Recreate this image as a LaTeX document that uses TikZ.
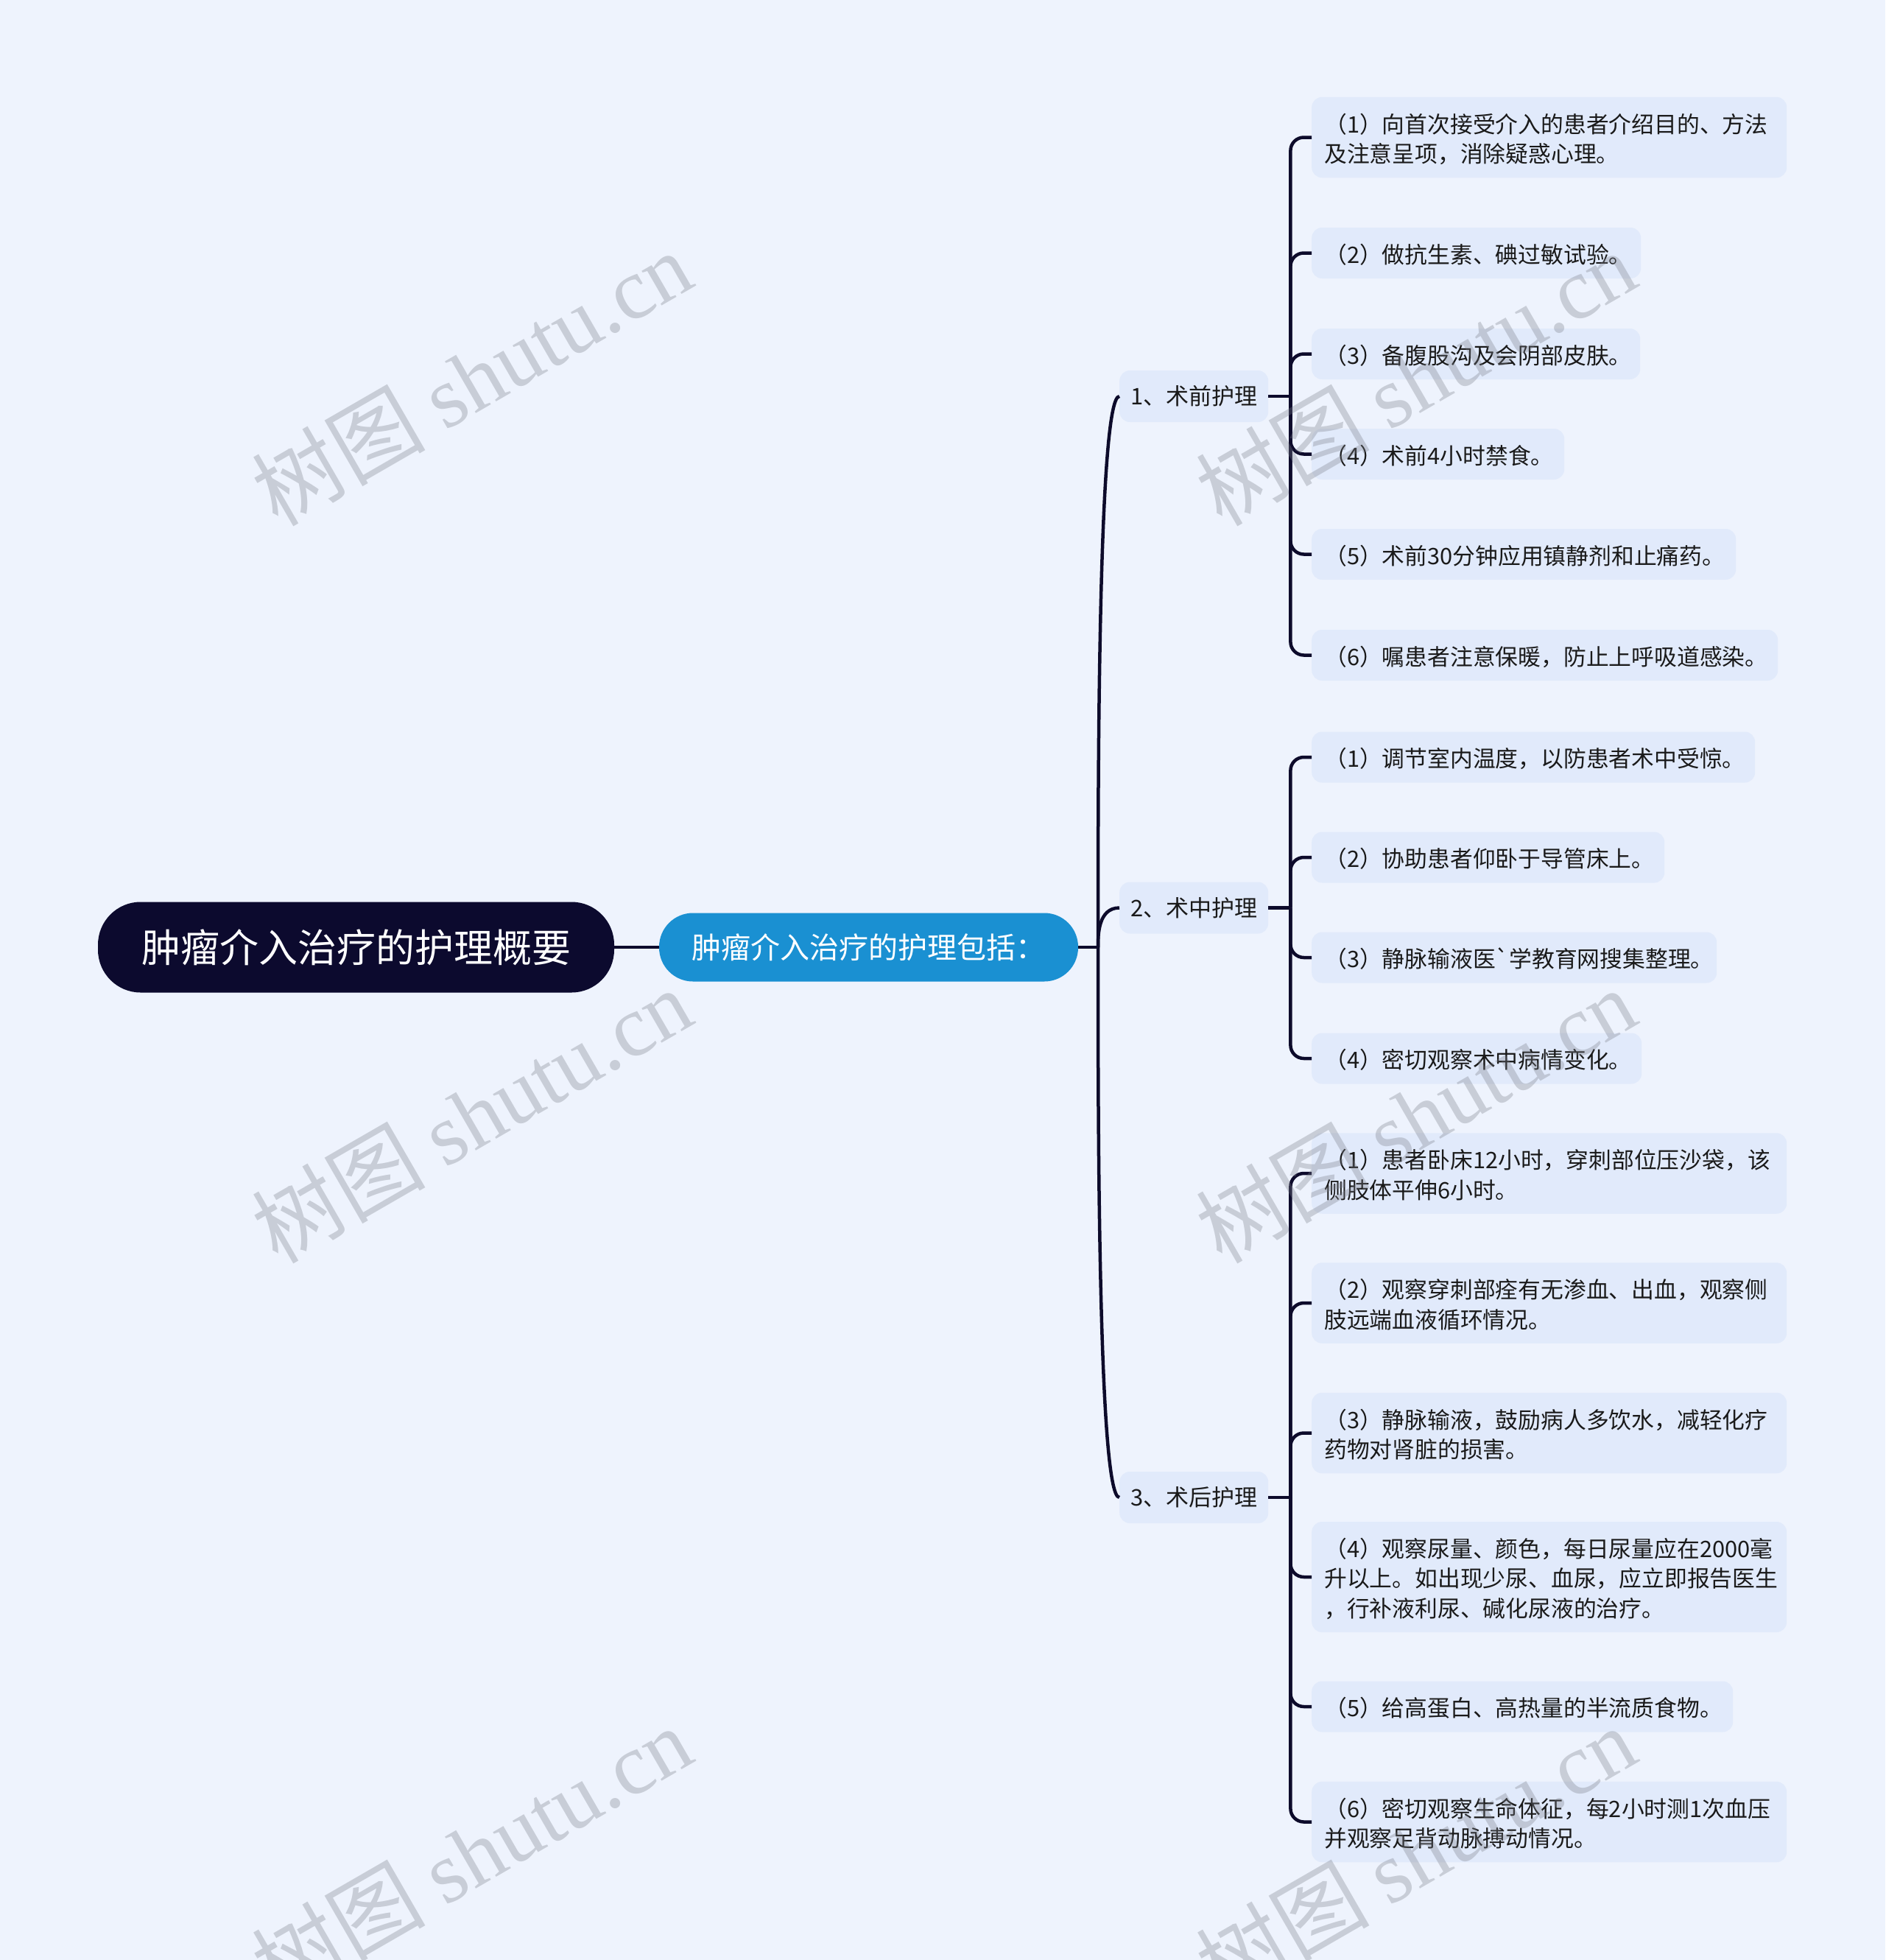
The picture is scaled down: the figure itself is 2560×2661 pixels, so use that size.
\documentclass[tikz,border=0pt]{standalone}
\usepackage{fontspec}
\setmainfont{Noto Sans CJK SC}
\newfontfamily\rawcjk{Noto Sans CJK SC}
\newfontfamily\wmlatin{Liberation Serif}
\usetikzlibrary{calc}
\definecolor{bg}{HTML}{EEF3FD}
\definecolor{leaffill}{HTML}{E1EAFB}
\definecolor{linec}{HTML}{0D0B2B}
\definecolor{rootfill}{HTML}{0C0A2E}
\definecolor{bluefill}{HTML}{1A90D2}
\definecolor{txt}{HTML}{1A1A1A}
\definecolor{wm}{HTML}{787D87}
\newcommand\lstrut{\vrule height 34pt depth 6.5pt width 0pt}
\begin{document}
\begin{tikzpicture}[x=1pt,y=-1pt,
  conn/.style={draw=linec,line width=4.5pt},
  leafconn/.style={draw=linec,line width=4.5pt,rounded corners=18pt},
  leaf/.style={fill=leaffill,rounded corners=14pt,anchor=west,inner xsep=17pt,inner ysep=14.25pt,align=left,text=txt,font=\fontsize{30.8pt}{40.5pt}\selectfont},
  branch/.style={fill=leaffill,rounded corners=14pt,anchor=west,minimum width=202pt,minimum height=70pt,inner sep=0pt,text=txt,font=\fontsize{31pt}{36pt}\selectfont},
  rootbox/.style={fill=rootfill,rounded corners=58pt,minimum width=701pt,minimum height=123pt,inner sep=0pt,text=white,font=\fontsize{53pt}{60pt}\selectfont},
  subbox/.style={fill=bluefill,rounded corners=46pt,minimum width=569pt,minimum height=93pt,inner sep=0pt,text=white,font=\fontsize{40pt}{48pt}\selectfont},
  wmark/.style={rotate=30,text=wm,text opacity=0.32,font=\fontsize{118pt}{130pt}\selectfont}
]
\fill[bg] (0,0) rectangle (2560,2661);
\useasboundingbox (0,0) rectangle (2560,2661);

% main nodes
\node[rootbox] (root) at (483.5,1286) {肿瘤介入治疗的护理概要};
\node[subbox] (sub) at (1179.5,1286) {肿瘤介入治疗的护理包括：};

% branches
\node[branch] (b1) at (1520,538) {1、术前护理};
\node[branch] (b2) at (1520,1232.5) {2、术中护理};
\node[branch] (b3) at (1520,2033) {3、术后护理};

% group 1 leaves
\node[leaf,text width=611pt] (a1) at (1781,186.5) {\lstrut（1）向首次接受介入的患者介绍目的、方法\\\lstrut 及注意呈项，消除疑惑心理。};
\node[leaf,text width=413pt] (a2) at (1781,343.5) {\lstrut（2）做抗生素、碘过敏试验。};
\node[leaf,text width=412pt] (a3) at (1781,480.5) {\lstrut（3）备腹股沟及会阴部皮肤。};
\node[leaf,text width=309pt] (a4) at (1781,616.5) {\lstrut（4）术前4小时禁食。};
\node[leaf,text width=542pt] (a5) at (1781,752.5) {\lstrut（5）术前30分钟应用镇静剂和止痛药。};
\node[leaf,text width=599pt] (a6) at (1781,889.5) {\lstrut（6）嘱患者注意保暖，防止上呼吸道感染。};

% group 2 leaves
\node[leaf,text width=568pt] (c1) at (1781,1028) {\lstrut（1）调节室内温度，以防患者术中受惊。};
\node[leaf,text width=445pt] (c2) at (1781,1164) {\lstrut（2）协助患者仰卧于导管床上。};
\node[leaf,text width=516pt] (c3) at (1781,1300) {\lstrut（3）静脉输液医{\rawcjk `}学教育网搜集整理。};
\node[leaf,text width=414pt] (c4) at (1781,1437) {\lstrut（4）密切观察术中病情变化。};

% group 3 leaves
\node[leaf,text width=611pt] (d1) at (1781,1593) {\lstrut（1）患者卧床12小时，穿刺部位压沙袋，该\\\lstrut 侧肢体平伸6小时。};
\node[leaf,text width=611pt] (d2) at (1781,1769) {\lstrut（2）观察穿刺部痊有无渗血、出血，观察侧\\\lstrut 肢远端血液循环情况。};
\node[leaf,text width=611pt] (d3) at (1781,1945.5) {\lstrut（3）静脉输液，鼓励病人多饮水，减轻化疗\\\lstrut 药物对肾脏的损害。};
\node[leaf,text width=611pt] (d4) at (1781,2141) {\lstrut（4）观察尿量、颜色，每日尿量应在2000毫\\\lstrut 升以上。如出现少尿、血尿，应立即报告医生\\\lstrut ，行补液利尿、碱化尿液的治疗。};
\node[leaf,text width=538pt] (d5) at (1781,2317) {\lstrut（5）给高蛋白、高热量的半流质食物。};
\node[leaf,text width=611pt] (d6) at (1781,2473.5) {\lstrut（6）密切观察生命体征，每2小时测1次血压\\\lstrut 并观察足背动脉搏动情况。};

% connectors: root -> sub -> branches
\draw[conn] (root.east) -- (sub.west);
\coordinate (J) at (1491,1286);
\draw[conn] (sub.east) -- (J);
\foreach \b in {b1,b2,b3}{
  \draw[conn] (J) .. controls ($(J)!0.3!(J|-\b.west)$) and (J|-\b.west) .. (\b.west);
}

% branch -> leaves
\coordinate (J1) at ($(b1.east)+(30,0)$);
\coordinate (J2) at ($(b2.east)+(30,0)$);
\coordinate (J3) at ($(b3.east)+(30,0)$);
\draw[conn] (b1.east) -- (J1);
\draw[conn] (b2.east) -- (J2);
\draw[conn] (b3.east) -- (J3);
\foreach \l in {a1,a2,a3,a4,a5,a6}{\draw[leafconn] (J1) |- (\l.west);}
\foreach \l in {c1,c2,c3,c4}{\draw[leafconn] (J2) |- (\l.west);}
\foreach \l in {d1,d2,d3,d4,d5,d6}{\draw[leafconn] (J3) |- (\l.west);}

% watermarks
\node[wmark] (w1) at (640,513) {树图 {\wmlatin shutu.cn}};
\node[wmark] (w2) at (1922,513) {树图 {\wmlatin shutu.cn}};
\node[wmark] (w3) at (640,1514) {树图 {\wmlatin shutu.cn}};
\node[wmark] (w4) at (1922,1514) {树图 {\wmlatin shutu.cn}};
\node[wmark] (w5) at (640,2516) {树图 {\wmlatin shutu.cn}};
\node[wmark] (w6) at (1922,2516) {树图 {\wmlatin shutu.cn}};
\end{tikzpicture}
\end{document}
